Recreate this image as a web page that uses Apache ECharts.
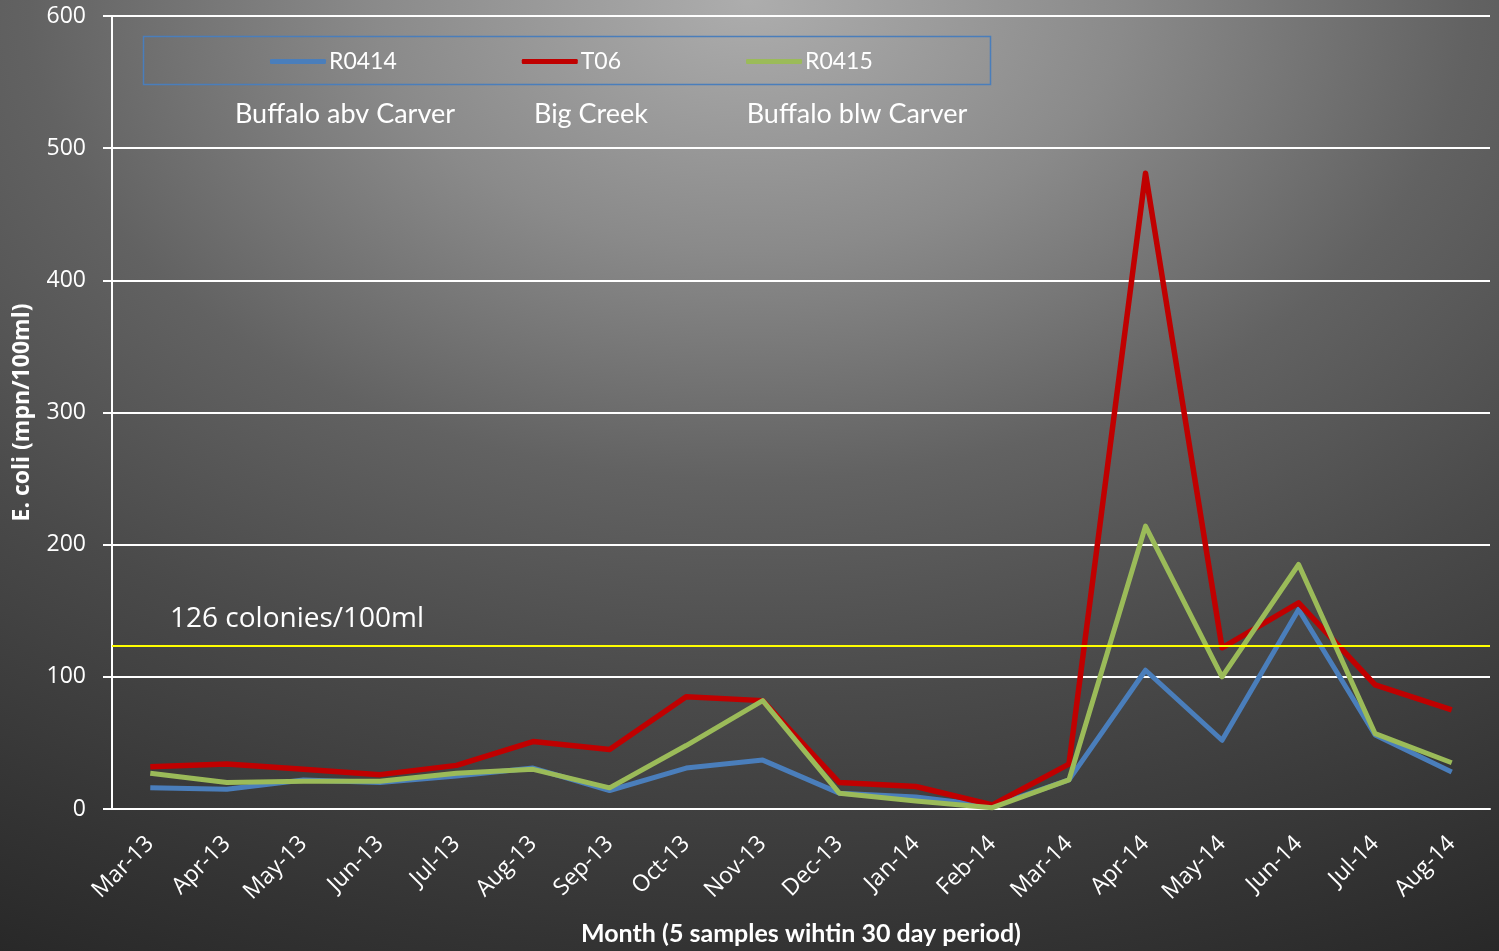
<!DOCTYPE html>
<html>
<head>
<meta charset="utf-8">
<script src="https://cdn.jsdelivr.net/npm/echarts@6/dist/echarts.min.js"></script>
<style>
html,body{margin:0;padding:0;width:1499px;height:951px;overflow:hidden;}
#chart{width:1499px;height:951px;
background: radial-gradient(ellipse 1500px 1000px at 50% 0%, #adadad 0%, #8a8a8a 25%, #626262 48%, #4a4a4a 70%, #333333 95%, #262626 110%);}
</style>
</head>
<body>
<div id="chart"></div>
<script>
const categories = ['Mar-13','Apr-13','May-13','Jun-13','Jul-13','Aug-13','Sep-13','Oct-13','Nov-13','Dec-13','Jan-14','Feb-14','Mar-14','Apr-14','May-14','Jun-14','Jul-14','Aug-14'];
const seriesNames = ['R0414','T06','R0415'];
const siteNames = ['Buffalo abv Carver','Big Creek','Buffalo blw Carver'];
const r0414 = [16,15,22,20,25,31,14,31,37,12,9,2,22,105,52,151,56,28];
const t06   = [32,34,30,26,33,51,45,85,82,20,17,3,34,481,122,156,94,75];
const r0415 = [27,20,21,21,27,30,16,48,82,12,6,1,22,214,100,185,57,35];
const yTicks = {min:0, max:600, interval:100};
const limitValue = 123.5;
const limitLabel = '126 colonies/100ml';
const xTitle = 'Month (5 samples wihtin 30 day period)';
const yTitle = 'E. coli (mpn/100ml)';

const colors = ['#4a7ebb','#c00000','#9bbb59'];
const widths = [5,5.5,5];
const seriesData = [r0414, t06, r0415];

const chart = echarts.init(document.getElementById('chart'), null, {renderer:'canvas'});
const series = seriesNames.map((n,i)=>({
  name:n, type:'line', data:seriesData[i], symbol:'none', smooth:false,
  lineStyle:{color:colors[i], width:widths[i], join:'round'},
  itemStyle:{color:colors[i]}, z:2+i, animation:false
}));
series[0].markLine = {
  silent:true, symbol:['none','none'], animation:false,
  lineStyle:{color:'#ffff00', width:2, type:'solid'},
  label:{show:true, position:'insideStartTop', formatter:limitLabel, color:'#ffffff',
    fontFamily:'Open Sans', fontSize:28, distance:[58,13]},
  data:[{yAxis:limitValue}]
};
const siteX = [345,591,857];
chart.setOption({
  backgroundColor:'transparent',
  animation:false,
  grid:{left:112, right:9, top:16, bottom:142, containLabel:false},
  legend:{
    data:seriesNames, left:265, top:45, icon:'roundRect', itemWidth:56, itemHeight:5, itemGap:125,
    textStyle:{color:'#ffffff', fontFamily:'Lato', fontSize:23, padding:[0,0,0,-2]}
  },
  graphic:[
    {type:'rect', shape:{x:143.5,y:36.5,width:847,height:48}, style:{fill:'none', stroke:'#4a7ebb', lineWidth:1.5}, silent:true},
  ].concat(siteNames.map((s,i)=>({type:'text', x:siteX[i], y:114, style:{text:s, fill:'#ffffff', font:'27px Lato', textAlign:'center', textVerticalAlign:'middle'}, silent:true}))),
  xAxis:{
    type:'category', data:categories, boundaryGap:true,
    axisLine:{lineStyle:{color:'#ffffff', width:2}},
    axisTick:{show:false},
    axisLabel:{color:'#ffffff', fontFamily:'Open Sans', fontSize:23, rotate:45, margin:31, interval:0},
    name:xTitle, nameLocation:'middle', nameGap:112,
    nameTextStyle:{color:'#ffffff', fontFamily:'Lato', fontWeight:'bold', fontSize:25}
  },
  yAxis:{
    type:'value', min:yTicks.min, max:yTicks.max, interval:yTicks.interval,
    axisLine:{show:true, lineStyle:{color:'#ffffff', width:2}},
    axisTick:{show:true, length:9, lineStyle:{color:'#ffffff', width:2}},
    axisLabel:{color:'#ffffff', fontFamily:'Open Sans', fontSize:23, margin:26},
    splitLine:{lineStyle:{color:'#ffffff', width:2}},
    name:yTitle, nameLocation:'middle', nameGap:78, nameRotate:90,
    nameTextStyle:{color:'#ffffff', fontFamily:'Open Sans', fontWeight:'bold', fontSize:23}
  },
  series:series
});
</script>
</body>
</html>
